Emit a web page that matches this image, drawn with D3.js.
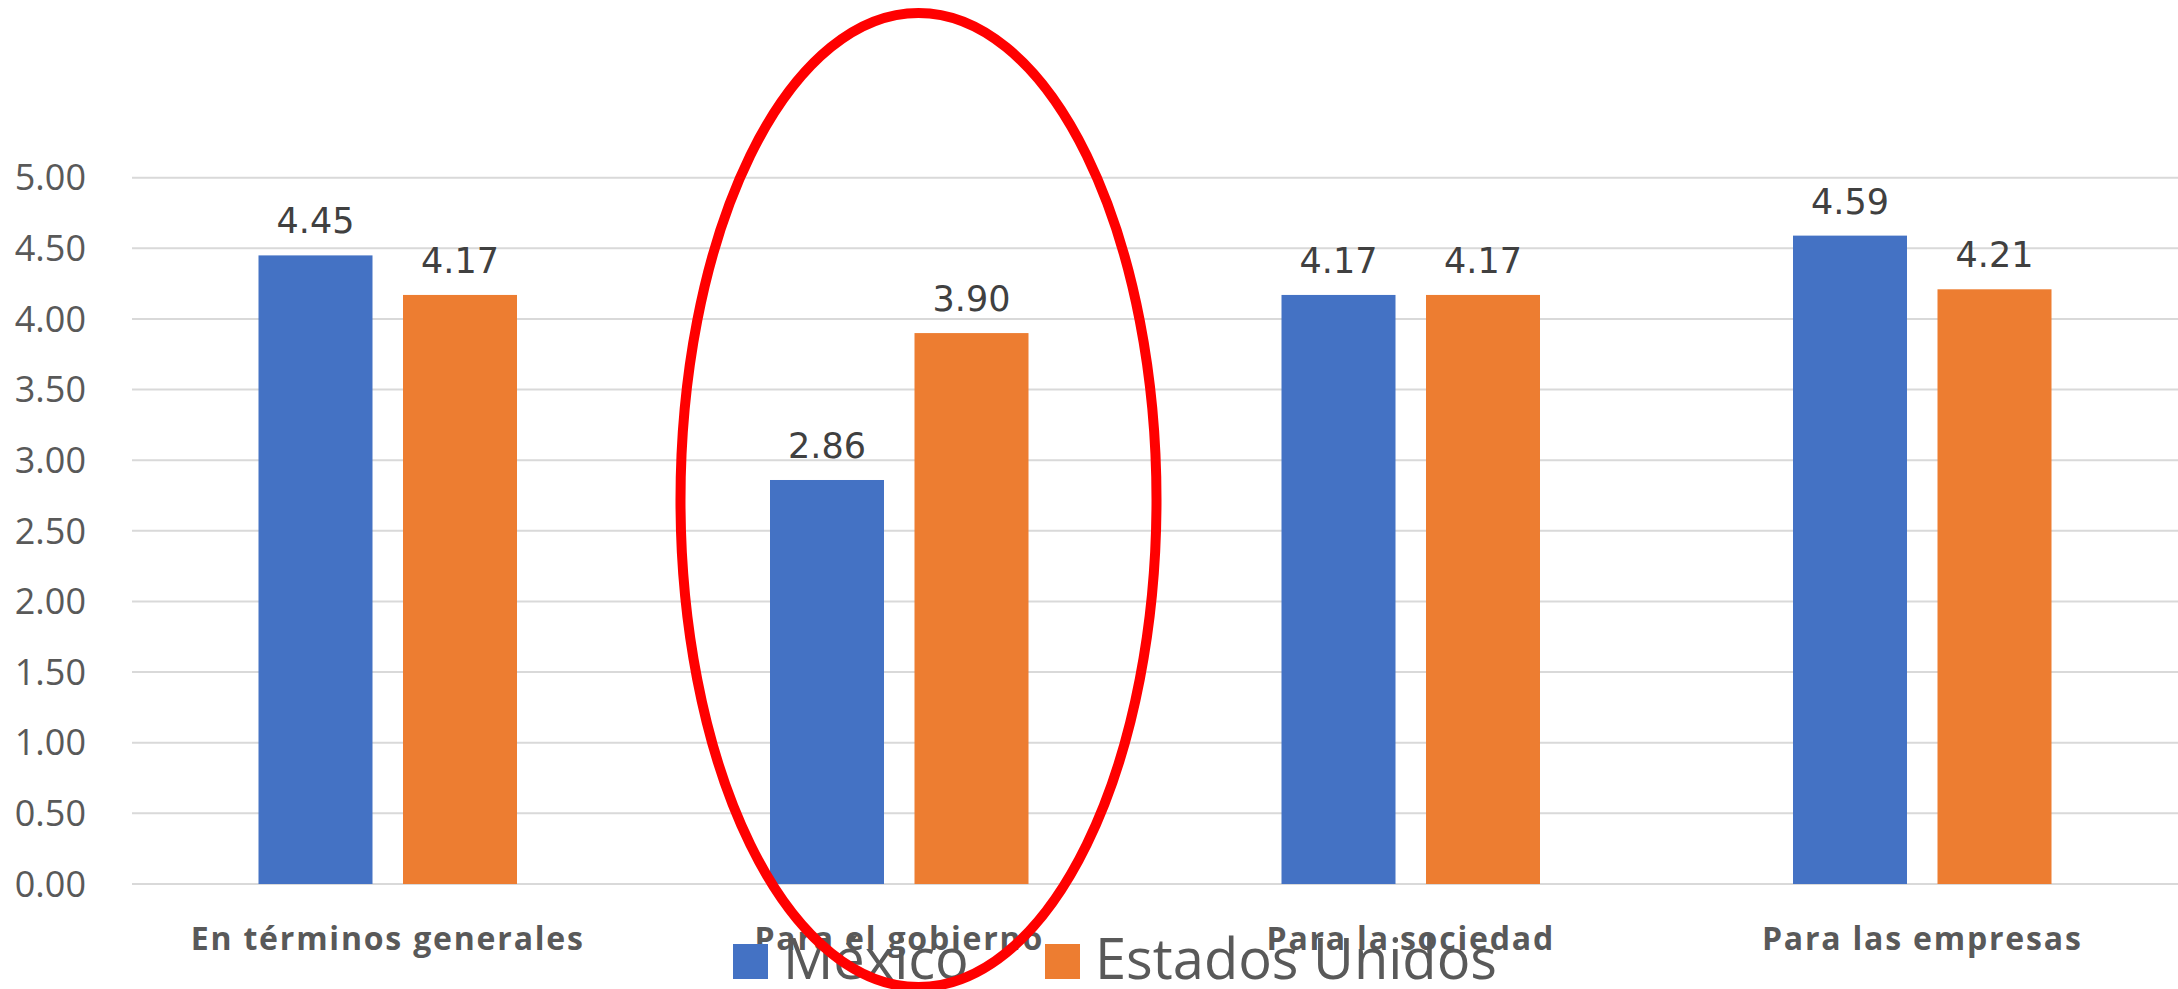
<!DOCTYPE html>
<html><head><meta charset="utf-8">
<script src="https://cdn.jsdelivr.net/npm/d3@7"></script>
<style>html,body{margin:0;padding:0;background:#fff;overflow:hidden}</style>
</head><body>
<svg id="chart" width="2178" height="989"></svg>
<script>
const categories = ["En términos generales", "Para el gobierno", "Para la sociedad", "Para las empresas"];
const seriesNames = ["México", "Estados Unidos"];
const mexico = [4.45, 2.86, 4.17, 4.59];
const estadosUnidos = [4.17, 3.90, 4.17, 4.21];
const yTicks = [0, 0.5, 1, 1.5, 2, 2.5, 3, 3.5, 4, 4.5, 5];
const colors = ["#4472C4", "#ED7D31"];

const svg = d3.select("#chart");
const plot = {left: 132, right: 2178, top: 177.7, bottom: 884};

const x0 = d3.scaleBand().domain(categories).range([plot.left, plot.right]).paddingInner(0).paddingOuter(0);
const y = d3.scaleLinear().domain([0, 5]).range([plot.bottom, plot.top]);

// gridlines
svg.append("g").selectAll("line").data(yTicks).join("line")
  .attr("x1", plot.left).attr("x2", plot.right)
  .attr("y1", d => y(d)).attr("y2", d => y(d))
  .attr("stroke", "#D9D9D9").attr("stroke-width", 2);

// y axis labels
const yAxis = d3.axisLeft(y).tickValues(yTicks).tickFormat(d3.format(".2f")).tickSize(0).tickPadding(0);
const yg = svg.append("g").attr("transform", `translate(86,0)`).call(yAxis);
yg.select(".domain").remove();
yg.selectAll("text").attr("fill", "#595959").style("font-family", "'Open Sans', sans-serif").style("font-size", "36px").attr("dy", "0.34em");

// bars
const barW = 114, gap = 30.5;
const data = categories.map((c, i) => ({cat: c, vals: [mexico[i], estadosUnidos[i]]}));
const groups = svg.append("g").selectAll("g").data(data).join("g")
  .attr("transform", d => `translate(${x0(d.cat) + x0.bandwidth() / 2 - (barW * 2 + gap) / 2},0)`);
groups.selectAll("rect").data(d => d.vals.map((v, k) => ({v, k}))).join("rect")
  .attr("x", d => d.k * (barW + gap))
  .attr("width", barW)
  .attr("y", d => y(d.v))
  .attr("height", d => y(0) - y(d.v))
  .attr("fill", d => colors[d.k]);
groups.selectAll("text").data(d => d.vals.map((v, k) => ({v, k}))).join("text")
  .attr("x", d => d.k * (barW + gap) + barW / 2)
  .attr("y", d => y(d.v) - 22)
  .attr("text-anchor", "middle")
  .attr("fill", "#404040")
  .style("font-family", "'DejaVu Sans', sans-serif")
  .style("font-size", "35px")
  .text(d => d3.format(".2f")(d.v));

// category labels
const xAxis = d3.axisBottom(x0).tickSize(0).tickPadding(0);
const xg = svg.append("g").attr("transform", `translate(0,${plot.bottom})`).call(xAxis);
xg.select(".domain").remove();
xg.selectAll("text").attr("fill", "#595959").attr("y", 66).attr("dy", 0)
  .style("font-family", "'Open Sans', sans-serif").style("font-size", "32px").style("font-weight", "bold")
  .style("letter-spacing", "1.8px");

// legend
const legend = svg.append("g");
const legendItems = [{name: seriesNames[0], x: 733, c: colors[0]}, {name: seriesNames[1], x: 1045, c: colors[1]}];
legendItems.forEach(it => {
  legend.append("rect").attr("x", it.x).attr("y", 944).attr("width", 35).attr("height", 35).attr("fill", it.c);
  legend.append("text").attr("x", it.x + 50).attr("y", 979)
    .attr("fill", "#595959").style("font-family", "'Open Sans', sans-serif").style("font-size", "56px")
    .text(it.name);
});

// red ellipse highlight
svg.append("ellipse").attr("cx", 918.5).attr("cy", 500).attr("rx", 238).attr("ry", 487)
  .attr("fill", "none").attr("stroke", "#FF0000").attr("stroke-width", 10);
</script>
</body></html>
